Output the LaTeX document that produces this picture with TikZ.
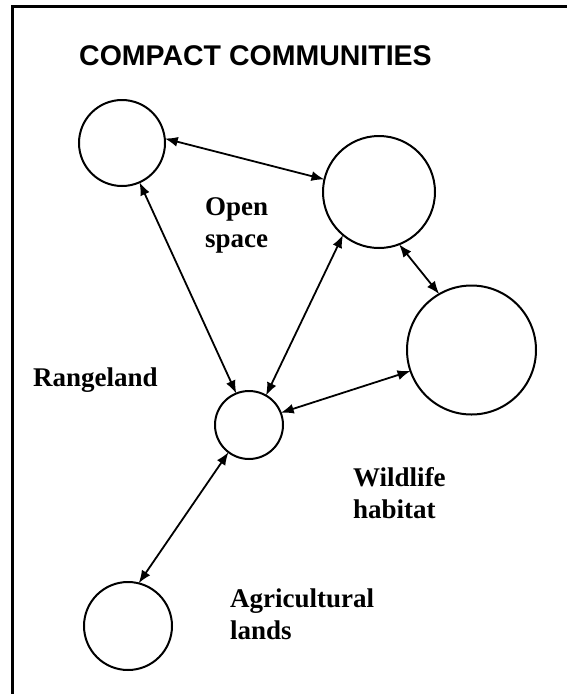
\documentclass[tikz,border=0pt]{standalone}
\usepackage{fontspec}
\setmainfont{Liberation Serif}
\setsansfont{Liberation Sans}
\usetikzlibrary{arrows.meta}
\begin{document}
\begin{tikzpicture}[x=1pt,y=-1pt,
  ring/.style={draw=black,circle,line width=2pt,inner sep=0pt,outer sep=0pt},
  link/.style={{Latex[length=13pt,width=10pt]}-{Latex[length=13pt,width=10pt]},line width=1.8pt},
  lbl/.style={anchor=base west,inner sep=0pt,align=left,font=\fontsize{27}{32}\selectfont\bfseries}]
\useasboundingbox (0,0) rectangle (567,694);
\draw[line width=2.2pt] (12.5,700) -- (12.5,6.5) -- (570,6.5);
\node[anchor=base west,inner sep=0pt,font=\sffamily\bfseries\fontsize{28.5}{32}\selectfont] (title) at (79,65.5) {COMPACT COMMUNITIES};
\node[ring,minimum size=86pt] (c1) at (122,143) {};
\node[ring,minimum size=112pt] (c2) at (379,192) {};
\node[ring,minimum size=129pt] (c3) at (471.5,350) {};
\node[ring,minimum size=68pt] (c4) at (249,425) {};
\node[ring,minimum size=88pt] (c5) at (128,626) {};
\draw[link] (c1.6.5) -- (c2.167);
\draw[link] (c1.294) -- (c4.112);
\draw[link] (c2.230) -- (c4.60);
\draw[link] (c2.291) -- (c3.120.6);
\draw[link] (c4.21.5) -- (c3.199);
\draw[link] (c4.233) -- (c5.76);
\node[lbl] (open) at (205,247) {Open\\space};
\node[lbl] (range) at (33,386) {Rangeland};
\node[lbl] (wild) at (353,518) {Wildlife\\habitat};
\node[lbl] (agri) at (230,639) {Agricultural\\lands};
\end{tikzpicture}
\end{document}
